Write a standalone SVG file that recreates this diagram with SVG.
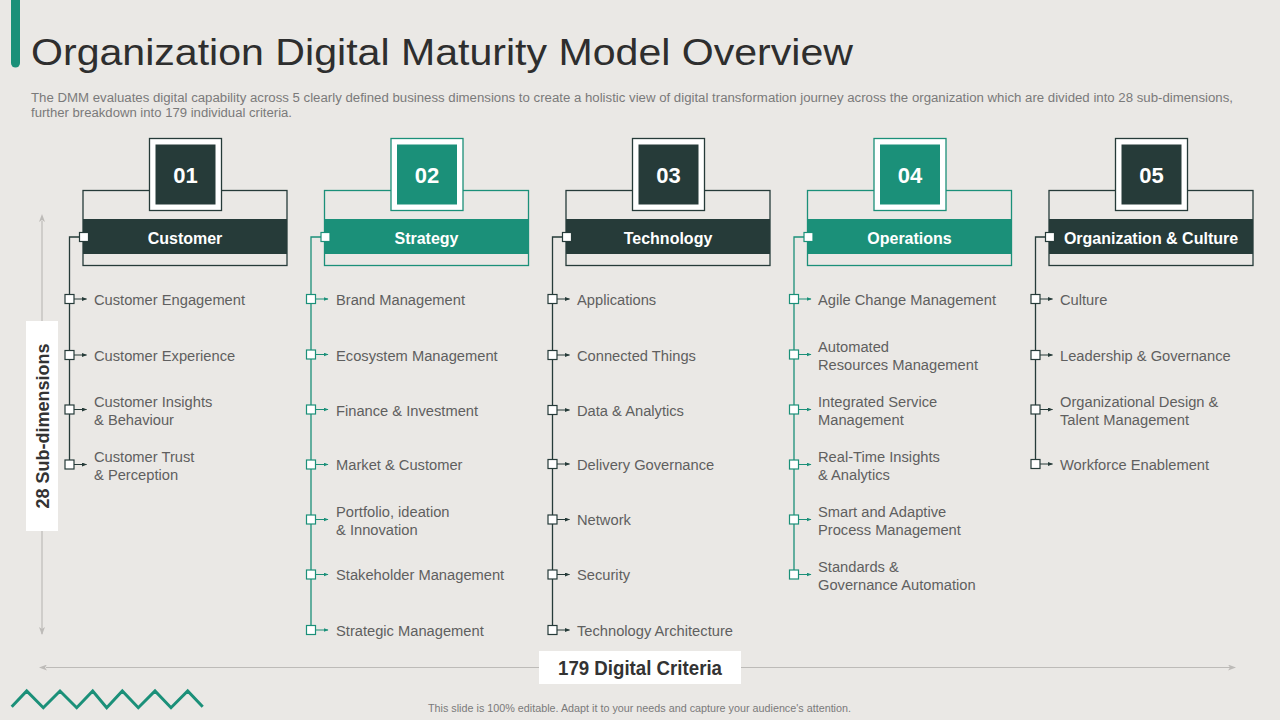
<svg xmlns="http://www.w3.org/2000/svg" width="1280" height="720" viewBox="0 0 1280 720">
<defs>
<style>
.bg{fill:#EAE8E5}
.t{font-family:"Liberation Sans",Arial,sans-serif}
.item{font-family:"Liberation Sans",Arial,sans-serif;font-size:14.7px;fill:#5F5F5F}
.hdr{font-family:"Liberation Sans",Arial,sans-serif;font-size:16px;font-weight:bold;fill:#FFFFFF;text-anchor:middle}
.num{font-family:"Liberation Sans",Arial,sans-serif;font-size:22px;font-weight:bold;fill:#FFFFFF;text-anchor:middle}
.dk .c-s{stroke:#263B39}
.dk .c-f{fill:#263B39}
.gr .c-s{stroke:#1B9079}
.gr .c-f{fill:#1B9079}
.frame{fill:none;stroke-width:1.3}
.nbox{fill:#FFFFFF;stroke-width:1.3}
.sq{fill:#FFFFFF;stroke-width:1.2}
.ln{fill:none;stroke-width:1.3}
.arr{fill:none;stroke-width:1}
.axis{stroke:#BDBBB8;stroke-width:1.2;fill:none}
</style>
<marker id="ahD" markerWidth="5" markerHeight="4" refX="4.5" refY="2" orient="auto" markerUnits="userSpaceOnUse"><path d="M0,0 L5,2 L0,4 Z" fill="#263B39"/></marker>
<marker id="ahG" markerWidth="5" markerHeight="4" refX="4.5" refY="2" orient="auto" markerUnits="userSpaceOnUse"><path d="M0,0 L5,2 L0,4 Z" fill="#1B9079"/></marker>
<marker id="ahA" markerWidth="8" markerHeight="6" refX="7" refY="3" orient="auto" markerUnits="userSpaceOnUse"><path d="M0,0 L8,3 L0,6 L2,3 Z" fill="#BDBBB8"/></marker>
<marker id="ahAs" markerWidth="8" markerHeight="6" refX="1" refY="3" orient="auto-start-reverse" markerUnits="userSpaceOnUse"><path d="M0,0 L8,3 L0,6 L2,3 Z" fill="#BDBBB8"/></marker>
</defs>
<rect class="bg" x="0" y="0" width="1280" height="720"/>

<g id="header">
<path d="M11,0 H20 V63 A4.5,4.5 0 0 1 11,63 Z" fill="#1B9079"/>
<text class="t" x="31" y="65" font-size="37" fill="#2E2E2E" textLength="822" lengthAdjust="spacingAndGlyphs">Organization Digital Maturity Model Overview</text>
<text class="t" x="31" y="101.5" font-size="12.5" fill="#7A7A7A" textLength="1202" lengthAdjust="spacingAndGlyphs">The DMM evaluates digital capability across 5 clearly defined  business dimensions to create a holistic view of digital transformation  journey across the organization which are divided  into 28 sub-dimensions,</text>
<text class="t" x="31" y="116.5" font-size="12.5" fill="#7A7A7A" textLength="261" lengthAdjust="spacingAndGlyphs">further  breakdown  into 179 individual  criteria.</text>
</g>

<g id="axes">
<line class="axis" x1="42" y1="221" x2="42" y2="634" marker-start="url(#ahAs)" marker-end="url(#ahA)"/>
<line class="axis" x1="46" y1="667.5" x2="1235" y2="667.5" marker-start="url(#ahAs)" marker-end="url(#ahA)"/>
<rect x="26" y="321" width="32" height="210" fill="#FFFFFF"/>
<text class="t" transform="translate(49,426) rotate(-90)" font-size="18" font-weight="bold" fill="#333333" text-anchor="middle">28 Sub-dimensions</text>
<rect x="539" y="651" width="202" height="33" fill="#FFFFFF"/>
<text class="t" x="640" y="674.5" font-size="19.5" font-weight="bold" fill="#333333" text-anchor="middle" textLength="164" lengthAdjust="spacingAndGlyphs">179 Digital Criteria</text>
</g>

<!-- Column 1 -->
<g id="col1" class="dk" transform="translate(69.5,0)">
<rect class="frame c-s" x="13.5" y="190.5" width="204" height="75"/>
<rect class="c-f" x="13.5" y="219" width="204" height="35"/>
<text class="hdr" x="115.5" y="243.5">Customer</text>
<rect class="nbox c-s" x="80" y="138.5" width="72" height="72"/>
<rect class="c-f" x="86" y="144.5" width="60" height="60"/>
<text class="num" x="116" y="182.5">01</text>
<g class="conn">
<polyline class="ln c-s" points="14,237 0,237 0,464.5"/>
<rect class="sq c-s" x="10" y="232.5" width="9" height="9"/>
</g>
<g class="items">
<rect class="sq c-s" x="-4.5" y="294.5" width="9" height="9"/><line class="arr c-s" x1="4.5" y1="299" x2="17" y2="299" marker-end="url(#ahD)"/><text class="item" x="24.5" y="305">Customer Engagement</text>
<rect class="sq c-s" x="-4.5" y="350.5" width="9" height="9"/><line class="arr c-s" x1="4.5" y1="355" x2="17" y2="355" marker-end="url(#ahD)"/><text class="item" x="24.5" y="361">Customer Experience</text>
<rect class="sq c-s" x="-4.5" y="405" width="9" height="9"/><line class="arr c-s" x1="4.5" y1="409.5" x2="17" y2="409.5" marker-end="url(#ahD)"/><text class="item" x="24.5" y="407">Customer Insights</text><text class="item" x="24.5" y="425">&amp; Behaviour</text>
<rect class="sq c-s" x="-4.5" y="460" width="9" height="9"/><line class="arr c-s" x1="4.5" y1="464.5" x2="17" y2="464.5" marker-end="url(#ahD)"/><text class="item" x="24.5" y="462">Customer Trust</text><text class="item" x="24.5" y="480">&amp; Perception</text>
</g>
</g>

<!-- Column 2 -->
<g id="col2" class="gr" transform="translate(311,0)">
<rect class="frame c-s" x="13.5" y="190.5" width="204" height="75"/>
<rect class="c-f" x="13.5" y="219" width="204" height="35"/>
<text class="hdr" x="115.5" y="243.5">Strategy</text>
<rect class="nbox c-s" x="80" y="138.5" width="72" height="72"/>
<rect class="c-f" x="86" y="144.5" width="60" height="60"/>
<text class="num" x="116" y="182.5">02</text>
<g class="conn">
<polyline class="ln c-s" points="14,237 0,237 0,630"/>
<rect class="sq c-s" x="10" y="232.5" width="9" height="9"/>
</g>
<g class="items">
<rect class="sq c-s" x="-4.5" y="294.5" width="9" height="9"/><line class="arr c-s" x1="4.5" y1="299" x2="17" y2="299" marker-end="url(#ahG)"/><text class="item" x="25" y="305">Brand Management</text>
<rect class="sq c-s" x="-4.5" y="350" width="9" height="9"/><line class="arr c-s" x1="4.5" y1="354.5" x2="17" y2="354.5" marker-end="url(#ahG)"/><text class="item" x="25" y="360.5">Ecosystem Management</text>
<rect class="sq c-s" x="-4.5" y="405" width="9" height="9"/><line class="arr c-s" x1="4.5" y1="409.5" x2="17" y2="409.5" marker-end="url(#ahG)"/><text class="item" x="25" y="415.5">Finance &amp; Investment</text>
<rect class="sq c-s" x="-4.5" y="460" width="9" height="9"/><line class="arr c-s" x1="4.5" y1="464.5" x2="17" y2="464.5" marker-end="url(#ahG)"/><text class="item" x="25" y="470">Market  &amp; Customer</text>
<rect class="sq c-s" x="-4.5" y="515" width="9" height="9"/><line class="arr c-s" x1="4.5" y1="519.5" x2="17" y2="519.5" marker-end="url(#ahG)"/><text class="item" x="25" y="517">Portfolio, ideation</text><text class="item" x="25" y="535">&amp; Innovation</text>
<rect class="sq c-s" x="-4.5" y="570" width="9" height="9"/><line class="arr c-s" x1="4.5" y1="574.5" x2="17" y2="574.5" marker-end="url(#ahG)"/><text class="item" x="25" y="580">Stakeholder Management</text>
<rect class="sq c-s" x="-4.5" y="625.5" width="9" height="9"/><line class="arr c-s" x1="4.5" y1="630" x2="17" y2="630" marker-end="url(#ahG)"/><text class="item" x="25" y="636">Strategic Management</text>
</g>
</g>

<!-- Column 3 -->
<g id="col3" class="dk" transform="translate(552.5,0)">
<rect class="frame c-s" x="13.5" y="190.5" width="204" height="75"/>
<rect class="c-f" x="13.5" y="219" width="204" height="35"/>
<text class="hdr" x="115.5" y="243.5">Technology</text>
<rect class="nbox c-s" x="80" y="138.5" width="72" height="72"/>
<rect class="c-f" x="86" y="144.5" width="60" height="60"/>
<text class="num" x="116" y="182.5">03</text>
<g class="conn">
<polyline class="ln c-s" points="14,237 0,237 0,630"/>
<rect class="sq c-s" x="10" y="232.5" width="9" height="9"/>
</g>
<g class="items">
<rect class="sq c-s" x="-4.5" y="294.5" width="9" height="9"/><line class="arr c-s" x1="4.5" y1="299" x2="17" y2="299" marker-end="url(#ahD)"/><text class="item" x="24.5" y="305">Applications</text>
<rect class="sq c-s" x="-4.5" y="350.5" width="9" height="9"/><line class="arr c-s" x1="4.5" y1="355" x2="17" y2="355" marker-end="url(#ahD)"/><text class="item" x="24.5" y="361">Connected Things</text>
<rect class="sq c-s" x="-4.5" y="405.5" width="9" height="9"/><line class="arr c-s" x1="4.5" y1="410" x2="17" y2="410" marker-end="url(#ahD)"/><text class="item" x="24.5" y="416">Data &amp; Analytics</text>
<rect class="sq c-s" x="-4.5" y="459.5" width="9" height="9"/><line class="arr c-s" x1="4.5" y1="464" x2="17" y2="464" marker-end="url(#ahD)"/><text class="item" x="24.5" y="470">Delivery Governance</text>
<rect class="sq c-s" x="-4.5" y="515" width="9" height="9"/><line class="arr c-s" x1="4.5" y1="519.5" x2="17" y2="519.5" marker-end="url(#ahD)"/><text class="item" x="24.5" y="525">Network</text>
<rect class="sq c-s" x="-4.5" y="570" width="9" height="9"/><line class="arr c-s" x1="4.5" y1="574.5" x2="17" y2="574.5" marker-end="url(#ahD)"/><text class="item" x="24.5" y="580">Security</text>
<rect class="sq c-s" x="-4.5" y="625.5" width="9" height="9"/><line class="arr c-s" x1="4.5" y1="630" x2="17" y2="630" marker-end="url(#ahD)"/><text class="item" x="24.5" y="636">Technology Architecture</text>
</g>
</g>

<!-- Column 4 -->
<g id="col4" class="gr" transform="translate(794,0)">
<rect class="frame c-s" x="13.5" y="190.5" width="204" height="75"/>
<rect class="c-f" x="13.5" y="219" width="204" height="35"/>
<text class="hdr" x="115.5" y="243.5">Operations</text>
<rect class="nbox c-s" x="80" y="138.5" width="72" height="72"/>
<rect class="c-f" x="86" y="144.5" width="60" height="60"/>
<text class="num" x="116" y="182.5">04</text>
<g class="conn">
<polyline class="ln c-s" points="14,237 0,237 0,574.5"/>
<rect class="sq c-s" x="10" y="232.5" width="9" height="9"/>
</g>
<g class="items">
<rect class="sq c-s" x="-4.5" y="294.5" width="9" height="9"/><line class="arr c-s" x1="4.5" y1="299" x2="17" y2="299" marker-end="url(#ahG)"/><text class="item" x="24" y="305">Agile  Change Management</text>
<rect class="sq c-s" x="-4.5" y="350" width="9" height="9"/><line class="arr c-s" x1="4.5" y1="354.5" x2="17" y2="354.5" marker-end="url(#ahG)"/><text class="item" x="24" y="352">Automated</text><text class="item" x="24" y="370">Resources Management</text>
<rect class="sq c-s" x="-4.5" y="405" width="9" height="9"/><line class="arr c-s" x1="4.5" y1="409.5" x2="17" y2="409.5" marker-end="url(#ahG)"/><text class="item" x="24" y="407">Integrated  Service</text><text class="item" x="24" y="425">Management</text>
<rect class="sq c-s" x="-4.5" y="460" width="9" height="9"/><line class="arr c-s" x1="4.5" y1="464.5" x2="17" y2="464.5" marker-end="url(#ahG)"/><text class="item" x="24" y="462">Real-Time Insights</text><text class="item" x="24" y="480">&amp; Analytics</text>
<rect class="sq c-s" x="-4.5" y="515" width="9" height="9"/><line class="arr c-s" x1="4.5" y1="519.5" x2="17" y2="519.5" marker-end="url(#ahG)"/><text class="item" x="24" y="517">Smart and Adaptive</text><text class="item" x="24" y="535">Process Management</text>
<rect class="sq c-s" x="-4.5" y="570" width="9" height="9"/><line class="arr c-s" x1="4.5" y1="574.5" x2="17" y2="574.5" marker-end="url(#ahG)"/><text class="item" x="24" y="572">Standards &amp;</text><text class="item" x="24" y="590">Governance  Automation</text>
</g>
</g>

<!-- Column 5 -->
<g id="col5" class="dk" transform="translate(1035.5,0)">
<rect class="frame c-s" x="13.5" y="190.5" width="204" height="75"/>
<rect class="c-f" x="13.5" y="219" width="204" height="35"/>
<text class="hdr" x="115.5" y="243.5">Organization &amp; Culture</text>
<rect class="nbox c-s" x="80" y="138.5" width="72" height="72"/>
<rect class="c-f" x="86" y="144.5" width="60" height="60"/>
<text class="num" x="116" y="182.5">05</text>
<g class="conn">
<polyline class="ln c-s" points="14,237 0,237 0,464"/>
<rect class="sq c-s" x="10" y="232.5" width="9" height="9"/>
</g>
<g class="items">
<rect class="sq c-s" x="-4.5" y="294.5" width="9" height="9"/><line class="arr c-s" x1="4.5" y1="299" x2="17" y2="299" marker-end="url(#ahD)"/><text class="item" x="24.5" y="305">Culture</text>
<rect class="sq c-s" x="-4.5" y="350.5" width="9" height="9"/><line class="arr c-s" x1="4.5" y1="355" x2="17" y2="355" marker-end="url(#ahD)"/><text class="item" x="24.5" y="361">Leadership  &amp; Governance</text>
<rect class="sq c-s" x="-4.5" y="405" width="9" height="9"/><line class="arr c-s" x1="4.5" y1="409.5" x2="17" y2="409.5" marker-end="url(#ahD)"/><text class="item" x="24.5" y="407">Organizational  Design &amp;</text><text class="item" x="24.5" y="425">Talent  Management</text>
<rect class="sq c-s" x="-4.5" y="459.5" width="9" height="9"/><line class="arr c-s" x1="4.5" y1="464" x2="17" y2="464" marker-end="url(#ahD)"/><text class="item" x="24.5" y="470">Workforce Enablement</text>
</g>
</g>

<g id="footer">
<polyline points="11.7,706.7 26.7,691 43.3,707.7 60,691 76.7,707.7 92.7,691 106.7,707.7 122.3,691 138.3,707.7 155,691 171,707.7 187.7,691 202.7,706.7" fill="none" stroke="#1B9079" stroke-width="3"/>
<text class="t" x="639.5" y="711.5" font-size="10.5" fill="#7A7A7A" text-anchor="middle" textLength="423" lengthAdjust="spacingAndGlyphs">This slide is 100% editable.  Adapt it to your needs and capture your audience's attention.</text>
</g>
</svg>
